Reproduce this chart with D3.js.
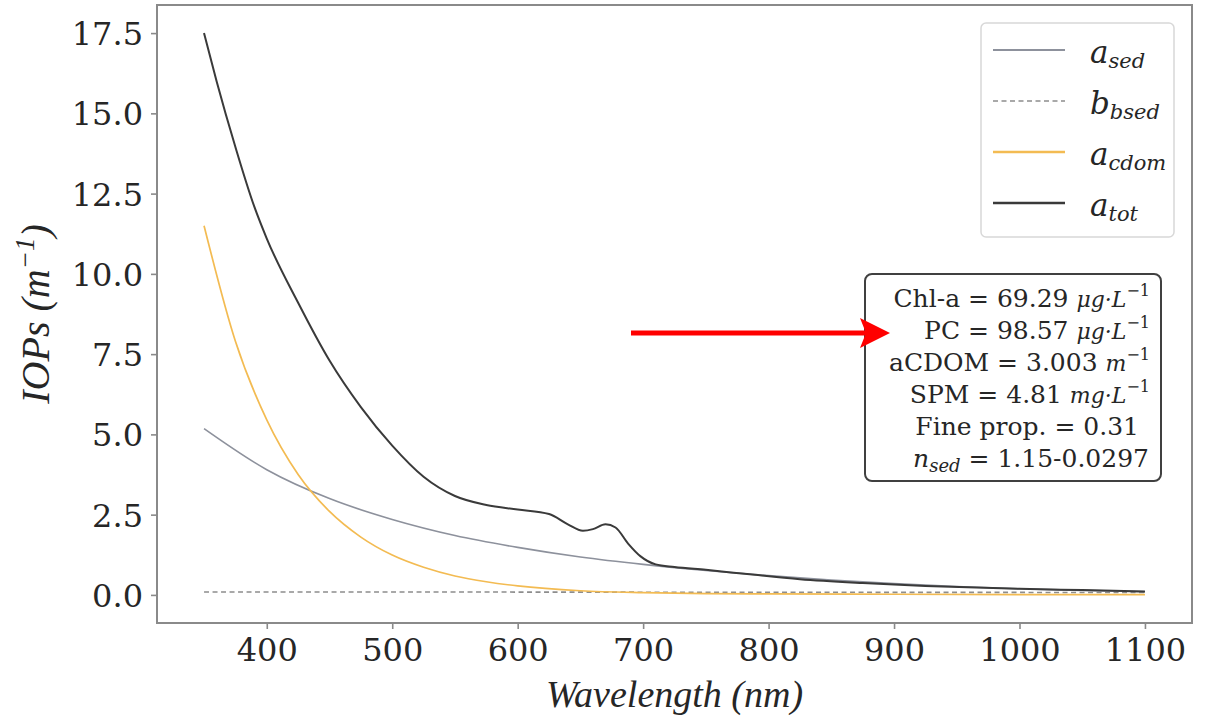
<!DOCTYPE html>
<html><head><meta charset="utf-8">
<script src="https://cdn.jsdelivr.net/npm/d3@7"></script>
<style>body{margin:0;background:#fff}svg{display:block}</style>
</head><body><svg id="c" width="1216" height="718"></svg>
<script>
// ---- data ----
const totWl = [350,360,375,390,400,425,450,475,500,525,550,575,600,625,640,652,660,670,678,688,698,710,725,750,785,825,875,925,1000,1050,1100];
const aTot  = [17.5,16.0,13.95,12.1,11.1,9.1,7.3,5.85,4.65,3.68,3.08,2.8,2.66,2.52,2.2,2.0,2.05,2.2,2.1,1.6,1.2,0.95,0.87,0.78,0.64,0.49,0.37,0.28,0.19,0.15,0.11];
const sedWl = [350,400,450,500,550,600,650,700,750,800,850,900,950,1000,1050,1100];
const aSed  = [5.18,3.9,3.0,2.35,1.85,1.48,1.18,0.95,0.76,0.6,0.46,0.35,0.26,0.19,0.14,0.1];
const cdomWl = [350,375,400,425,450,475,500,525,550,575,600,650,700,750,800,900,1000,1100];
const aCdom  = [11.5,7.9,5.45,3.75,2.6,1.8,1.24,0.86,0.59,0.41,0.28,0.13,0.07,0.04,0.03,0.02,0.01,0.01];
const bbWl = [350,500,700,900,1100];
const bbSed = [0.09,0.09,0.085,0.08,0.075];
const xTicks = [400,500,600,700,800,900,1000,1100];
const yTicks = [0,2.5,5,7.5,10,12.5,15,17.5];
const legendBase = ["a","b","a","a"];
const legendSub = ["sed","bsed","cdom","tot"];
const boxMain = ["Chl-a = 69.29","PC = 98.57","aCDOM = 3.003","SPM = 4.81","Fine prop. = 0.31",""];
const boxUnit = ["μg·L","μg·L","m","mg·L","",""];

// ---- layout ----
const svg = d3.select("#c");
const L=157, T=5, R=1192, B=623;
const x = d3.scaleLinear().domain([312.5,1137.5]).range([L,R]);
const y = d3.scaleLinear().domain([-0.875,18.375]).range([B,T]);
const frameCol = "#8a8a8a";
const colSed = "#8d919c", colTot = "#3a3a3a", colCdom = "#f3bb52", colBb = "#8d8d8d";

const line = d3.line().x(d=>x(d[0])).y(d=>y(d[1])).curve(d3.curveMonotoneX);
const zip = (a,b)=>a.map((v,i)=>[v,b[i]]);

const g = svg.append("g");
g.append("path").attr("d", line(zip(bbWl,bbSed))).attr("fill","none").attr("stroke",colBb).attr("stroke-width",1.6).attr("stroke-dasharray","5,3.5");
g.append("path").attr("d", line(zip(sedWl,aSed))).attr("fill","none").attr("stroke",colSed).attr("stroke-width",1.6);
g.append("path").attr("d", line(zip(cdomWl,aCdom))).attr("fill","none").attr("stroke",colCdom).attr("stroke-width",1.7);
g.append("path").attr("d", line(zip(totWl,aTot))).attr("fill","none").attr("stroke",colTot).attr("stroke-width",2);

// frame
svg.append("rect").attr("x",L).attr("y",T).attr("width",R-L).attr("height",B-T)
  .attr("fill","none").attr("stroke",frameCol).attr("stroke-width",2);

// axes
const xa = svg.append("g").attr("transform",`translate(0,${B})`)
  .call(d3.axisBottom(x).tickValues(xTicks).tickSize(6).tickPadding(5).tickFormat(d3.format("d")));
const ya = svg.append("g").attr("transform",`translate(${L},0)`)
  .call(d3.axisLeft(y).tickValues(yTicks).tickSize(6).tickPadding(8).tickFormat(d3.format(".1f")));
[xa,ya].forEach(a=>{
  a.select(".domain").remove();
  a.selectAll(".tick line").attr("stroke",frameCol).attr("stroke-width",1.6);
  a.selectAll(".tick text").attr("fill","#262626").style("font-family","DejaVu Serif").style("font-size","32px");
});
xa.selectAll(".tick text").attr("dy","0.85em");
ya.selectAll(".tick text").attr("dy","0.36em");

// axis titles
svg.append("text").attr("x",(L+R)/2).attr("y",707).attr("text-anchor","middle")
  .style("font-family","Liberation Serif").style("font-style","italic").style("font-size","38px").attr("fill","#262626")
  .text("Wavelength (nm)");
const yl = svg.append("text").attr("transform",`translate(49,${(T+B)/2}) rotate(-90)`).attr("text-anchor","middle")
  .style("font-family","Liberation Serif").style("font-style","italic").style("font-size","40px").attr("fill","#262626");
yl.append("tspan").text("IOPs (m");
yl.append("tspan").attr("dy",-15).style("font-size","27px").text("−1");
yl.append("tspan").attr("dy",15).text(")");

// legend
svg.append("rect").attr("x",981).attr("y",23).attr("width",193).attr("height",214).attr("rx",5)
  .attr("fill","#fff").attr("stroke","#d8d8d8").attr("stroke-width",1.5);
const legCols=[colSed,colBb,colCdom,colTot], legDash=[null,"5,3.5",null,null], legW=[2,1.6,2.5,2.5];
legendBase.forEach((b,i)=>{
  const ly = 50 + i*51;
  svg.append("line").attr("x1",993).attr("x2",1065).attr("y1",ly).attr("y2",ly)
    .attr("stroke",legCols[i]).attr("stroke-width",legW[i]).attr("stroke-dasharray",legDash[i]);
  const t = svg.append("text").attr("x",1090).attr("y",ly+13).attr("fill","#262626")
    .style("font-family","DejaVu Serif").style("font-style","italic").style("font-size","31px");
  t.append("tspan").text(b);
  t.append("tspan").attr("dy",5).style("font-size","21px").text(legendSub[i]);
});

// text box
svg.append("rect").attr("x",865).attr("y",274).attr("width",296).attr("height",207).attr("rx",7)
  .attr("fill","#fff").attr("stroke","#404040").attr("stroke-width",2);
const rightX=[1150,1150,1150,1150,1139,1149];
boxMain.forEach((s,i)=>{
  const by = 307 + i*32;
  const t = svg.append("text").attr("x",rightX[i]).attr("y",by).attr("text-anchor","end").attr("fill","#262626")
    .style("font-family","DejaVu Serif").style("font-size","25px");
  if(i<5){
    t.append("tspan").text(s + (boxUnit[i]? " ":""));
    if(boxUnit[i]){
      t.append("tspan").style("font-style","italic").style("font-size","22px").text(boxUnit[i]);
      t.append("tspan").attr("dy",-11).style("font-size","16px").text("−1");
    }
  } else {
    t.append("tspan").style("font-style","italic").text("n");
    t.append("tspan").attr("dy",5).style("font-style","italic").style("font-size","18px").text("sed");
    t.append("tspan").attr("dy",-5).text(" = 1.15-0.0297");
  }
});

// red arrow
svg.append("line").attr("x1",631).attr("x2",866).attr("y1",333).attr("y2",333).attr("stroke","#ff0000").attr("stroke-width",5);
svg.append("path").attr("d","M890,333 L860,318 L866,333 L860,348 Z").attr("fill","#ff0000");
</script></body></html>
